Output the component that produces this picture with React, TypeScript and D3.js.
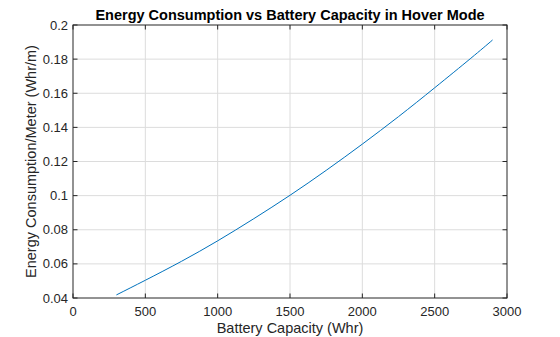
import React from "react";
import * as d3 from "d3";

const capacity = [300, 500, 750, 1000, 1250, 1500, 1750, 2000, 2250, 2500, 2750, 2900];
const consumption = [0.0418, 0.0504, 0.0615, 0.0735, 0.0865, 0.1002, 0.1148, 0.1302, 0.1463, 0.1632, 0.1805, 0.1912];
const xTicks = [0, 500, 1000, 1500, 2000, 2500, 3000];
const yTicks = [0.04, 0.06, 0.08, 0.1, 0.12, 0.14, 0.16, 0.18, 0.2];

const W = 560, H = 337;
const L = 73, R = 507, T = 25, B = 298;
const FONT = "'Liberation Sans', Arial, Helvetica, sans-serif";
const AX = "#262626";

export default function App() {
  const x = d3.scaleLinear().domain([0, 3000]).range([L, R]);
  const y = d3.scaleLinear().domain([0.04, 0.2]).range([B, T]);
  const pts = capacity.map((c, i) => [c, consumption[i]] as [number, number]);
  const line = d3.line<[number, number]>().x(d => x(d[0])).y(d => y(d[1])).curve(d3.curveNatural);
  const fmt = (v: number) => String(+v.toFixed(2));
  const tl = 4.5;
  return (
    <svg width={W} height={H} style={{ position: "absolute", left: 0, top: 0, background: "#fff" }}>
      <rect x={0} y={0} width={W} height={H} fill="#fff" />
      <g>
        {xTicks.slice(1, -1).map(t => (
          <line key={"gx" + t} x1={x(t)} x2={x(t)} y1={T} y2={B} stroke="#dcdcdc" strokeWidth={1} />
        ))}
        {yTicks.slice(1, -1).map(t => (
          <line key={"gy" + t} x1={L} x2={R} y1={y(t)} y2={y(t)} stroke="#dcdcdc" strokeWidth={1} />
        ))}
      </g>
      <path d={line(pts) || ""} fill="none" stroke="#0072BD" strokeWidth={1} />
      <rect x={L} y={T} width={R - L} height={B - T} fill="none" stroke={AX} strokeWidth={1} />
      {xTicks.map(t => (
        <g key={"tx" + t}>
          <line x1={x(t)} x2={x(t)} y1={B} y2={B - tl} stroke={AX} />
          <line x1={x(t)} x2={x(t)} y1={T} y2={T + tl} stroke={AX} />
          <text x={x(t)} y={B + 18} textAnchor="middle" fontFamily={FONT} fontSize={13} fill={AX}>{t}</text>
        </g>
      ))}
      {yTicks.map(t => (
        <g key={"ty" + t}>
          <line x1={L} x2={L + tl} y1={y(t)} y2={y(t)} stroke={AX} />
          <line x1={R} x2={R - tl} y1={y(t)} y2={y(t)} stroke={AX} />
          <text x={L - 5} y={y(t) + 4.5} textAnchor="end" fontFamily={FONT} fontSize={13} fill={AX}>{fmt(t)}</text>
        </g>
      ))}
      <text x={(L + R) / 2} y={333} textAnchor="middle" fontFamily={FONT} fontSize={14.5} fill={AX}>Battery Capacity (Whr)</text>
      <text transform={`translate(36,${(T + B) / 2}) rotate(-90)`} textAnchor="middle" fontFamily={FONT} fontSize={14.5} fill={AX}>Energy Consumption/Meter (Whr/m)</text>
      <text x={(L + R) / 2} y={20} textAnchor="middle" fontFamily={FONT} fontSize={14.5} fontWeight="bold" fill="#000">Energy Consumption vs Battery Capacity in Hover Mode</text>
    </svg>
  );
}
